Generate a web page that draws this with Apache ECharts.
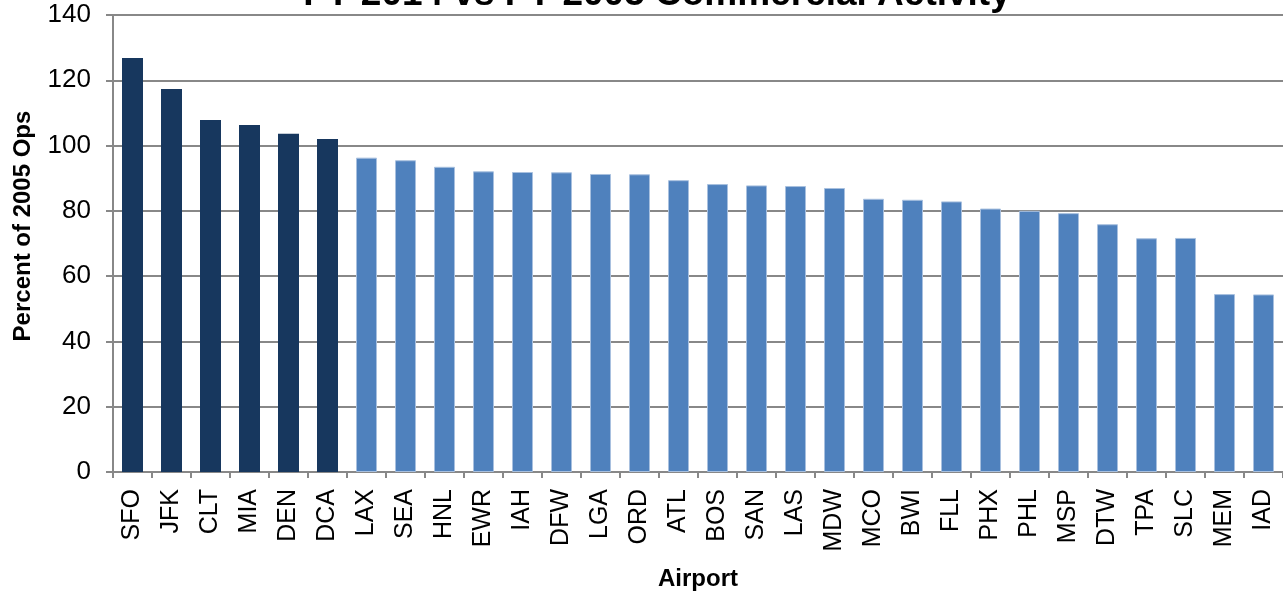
<!DOCTYPE html>
<html>
<head>
<meta charset="utf-8">
<script src="https://cdn.jsdelivr.net/npm/echarts@6/dist/echarts.min.js"></script>
<style>
  html, body { margin: 0; padding: 0; background: #fff; }
  #chart { width: 1283px; height: 594px; }
</style>
</head>
<body>
<div id="chart"></div>
<script>
// 机场代码
var airports = ['SFO', 'JFK', 'CLT', 'MIA', 'DEN', 'DCA', 'LAX', 'SEA', 'HNL', 'EWR',
    'IAH', 'DFW', 'LGA', 'ORD', 'ATL', 'BOS', 'SAN', 'LAS', 'MDW', 'MCO',
    'BWI', 'FLL', 'PHX', 'PHL', 'MSP', 'DTW', 'TPA', 'SLC', 'MEM', 'IAD'];
// 占2005年运营量的百分比
var percentOf2005 = [126.8, 117.3, 107.8, 106.3, 103.6, 102.0, 96.3, 95.5, 93.5, 92.1,
    91.9, 91.8, 91.3, 91.2, 89.4, 88.2, 87.8, 87.6, 87.0, 83.7,
    83.4, 82.9, 80.7, 80.0, 79.3, 75.9, 71.6, 71.7, 54.5, 54.4];
var yTicks = [0, 20, 40, 60, 80, 100, 120, 140];

var darkBlue = '#17375E';
var lightBlue = '#4F81BD';
var font = 'Liberation Sans, Arial, sans-serif';

var myChart = echarts.init(document.getElementById('chart'));

var barData = [];
for (let i = 0; i < percentOf2005.length; i++) {
    // 超过100%的用深色
    var over = percentOf2005[i] > 100;
    barData.push({
        value: percentOf2005[i],
        itemStyle: over
            ? { color: darkBlue }
            : { color: lightBlue, borderColor: '#A8C0DF', borderWidth: 1 }
    });
}

var option = {
    animation: false,
    title: {
        text: 'FY 2014 vs FY 2005 Commercial Activity',
        left: 652,
        textAlign: 'center',
        top: -29,
        textStyle: {
            fontFamily: font,
            fontSize: 37,
            fontWeight: 'bold',
            color: '#000'
        }
    },
    // y轴标题单独画，位置比绘图区中心略高
    graphic: [{
        type: 'text',
        x: 23,
        y: 226,
        rotation: Math.PI / 2,
        style: {
            text: 'Percent of 2005 Ops',
            fontFamily: font,
            fontSize: 24,
            fontWeight: 'bold',
            fill: '#000',
            textAlign: 'center',
            textVerticalAlign: 'middle'
        }
    }],
    grid: {
        left: 113,
        right: 0,
        top: 15,
        bottom: 122,
        outerBoundsMode: 'none'
    },
    xAxis: {
        type: 'category',
        data: airports,
        name: 'Airport',
        nameLocation: 'middle',
        nameGap: 95,
        nameTextStyle: {
            fontFamily: font,
            fontSize: 24,
            fontWeight: 'bold',
            color: '#000'
        },
        axisLine: { lineStyle: { color: '#888', width: 2 } },
        axisTick: { show: true, length: 6, lineStyle: { color: '#888', width: 2 } },
        axisLabel: {
            rotate: 90,
            margin: 17,
            fontFamily: font,
            fontSize: 25,
            color: '#000'
        }
    },
    yAxis: {
        type: 'value',
        min: 0,
        max: 140,
        interval: 20,
        axisLine: { show: true, lineStyle: { color: '#888', width: 2 } },
        axisTick: { show: true, length: 7, lineStyle: { color: '#888', width: 2 } },
        splitLine: { lineStyle: { color: '#888', width: 2 } },
        axisLabel: {
            margin: 22,
            fontFamily: font,
            fontSize: 26,
            color: '#000',
            formatter: function (v) {
                return yTicks.indexOf(v) >= 0 ? String(v) : '';
            }
        }
    },
    series: [
        {
            name: 'Percent of 2005 Ops',
            type: 'bar',
            barWidth: 21,
            data: barData
        }
    ]
};
myChart.setOption(option);
</script>
</body>
</html>
